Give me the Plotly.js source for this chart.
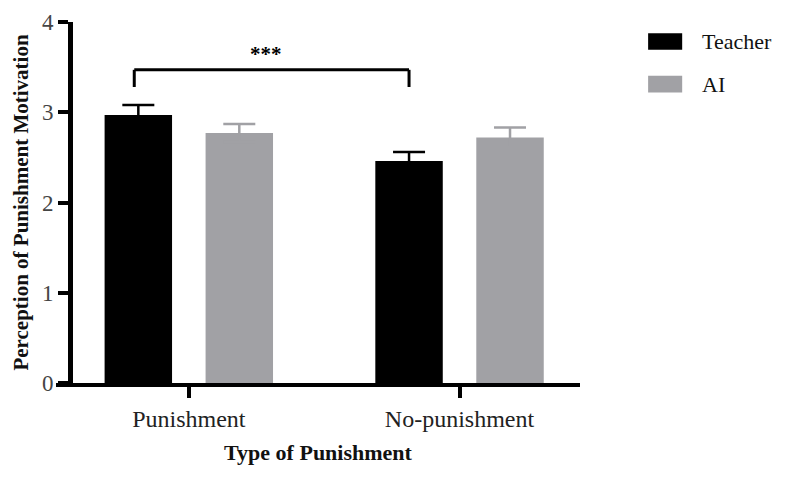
<!DOCTYPE html>
<html>
<head>
<meta charset="utf-8">
<script src="https://cdn.plot.ly/plotly-3.0.1.min.js"></script>
<style>
  body { margin: 0; background: #fff; }
  #plot { width: 785px; height: 479px; }
</style>
</head>
<body>
<div id="plot"></div>
<script>
// data
var categories = ['Punishment', 'No-punishment'];
var teacherMeans = [2.97, 2.46];
var teacherSE = [0.11, 0.10];
var aiMeans = [2.77, 2.72];
var aiSE = [0.10, 0.11];
var seriesNames = ['Teacher', 'AI'];
var seriesColors = ['#000000', '#a1a1a5'];
var yTicks = [0, 1, 2, 3, 4];
var sigLabel = '***';
var sigBracket = [3.28, 3.47]; // bottom / top of the bracket

var serif = 'Liberation Serif, DejaVu Serif, serif';

// bar layout: half slot offset of each bar inside its group
var barGap = 0.254;
var groupGap = 0.332;
var slot = (1 - barGap) / 2;
var teacherOffset = -slot / 2;

function makeTrace(name, means, se, color) {
  // symmetric bars: the lower half is hidden inside the bar of the same colour
  return {
    type: 'bar',
    name: name,
    x: categories,
    y: means,
    marker: { color: color, line: { width: 0 } },
    error_y: {
      type: 'data',
      array: se,
      color: color,
      thickness: 2.5,
      width: 16
    },
    hoverinfo: 'x+y'
  };
}

var trace1 = makeTrace(seriesNames[0], teacherMeans, teacherSE, seriesColors[0]);
var trace2 = makeTrace(seriesNames[1], aiMeans, aiSE, seriesColors[1]);
var data = [trace1, trace2];

// significance bracket between the two Teacher bars
var bx0 = 0 + teacherOffset - 0.015;
var bx1 = 1 + teacherOffset;
var bracketLine = { color: '#000', width: 3 };
var shapes = [
  { type: 'line', xref: 'x', yref: 'y', x0: bx0, x1: bx1, y0: sigBracket[1], y1: sigBracket[1], line: bracketLine },
  { type: 'line', xref: 'x', yref: 'y', x0: bx0, x1: bx0, y0: sigBracket[0], y1: sigBracket[1], line: bracketLine },
  { type: 'line', xref: 'x', yref: 'y', x0: bx1, x1: bx1, y0: sigBracket[0], y1: sigBracket[1], line: bracketLine }
];

var annotations = [
  {
    xref: 'x', yref: 'y',
    x: (bx0 + bx1) / 2 - 0.02, y: sigBracket[1] + 0.17,
    text: sigLabel, showarrow: false,
    xanchor: 'center', yanchor: 'middle',
    font: { family: serif, size: 21, color: '#000', weight: 'bold' }
  }
];

// hand-made legend with wide swatches
var legX = 1.13, legW = 0.065, legTextX = 1.229;
var legY = [0.946, 0.828];
var legH = 0.046;
for (var i = 0; i < seriesNames.length; i++) {
  shapes.push({
    type: 'rect', xref: 'paper', yref: 'paper',
    x0: legX, x1: legX + legW, y0: legY[i] - legH / 2, y1: legY[i] + legH / 2,
    fillcolor: seriesColors[i], line: { width: 0 }
  });
  annotations.push({
    xref: 'paper', yref: 'paper', x: legTextX, y: legY[i],
    text: seriesNames[i], showarrow: false,
    xanchor: 'left', yanchor: 'middle',
    font: { family: serif, size: 22, color: '#111' }
  });
}

var layout = {
  width: 785,
  height: 479,
  margin: { l: 56, r: 205, t: 22, b: 96 },
  paper_bgcolor: '#fff',
  plot_bgcolor: '#fff',
  showlegend: false,
  barmode: 'group',
  bargap: barGap,
  bargroupgap: groupGap,
  xaxis: {
    type: 'category',
    range: [-0.4906, 1.445],
    showline: true, linewidth: 4, linecolor: '#000',
    ticks: 'outside', ticklen: 11, tickwidth: 4, tickcolor: '#000',
    tickfont: { family: serif, size: 24, color: '#222' },
    showgrid: false, zeroline: false,
    automargin: false,
    title: {
      text: 'Type of Punishment',
      font: { family: serif, size: 22, color: '#111', weight: 'bold' },
      standoff: 15
    }
  },
  yaxis: {
    range: [0, 4],
    anchor: 'free',
    position: 0.0267,
    showline: true, linewidth: 5, linecolor: '#000',
    ticks: 'outside', ticklen: 10, tickwidth: 4, tickcolor: '#000',
    tickvals: yTicks,
    tickfont: { family: serif, size: 23, color: '#444' },
    showgrid: false, zeroline: false,
    automargin: false,
    title: {
      text: 'Perception of Punishment Motivation',
      font: { family: serif, size: 21, color: '#111', weight: 'bold' },
      standoff: 6
    }
  },
  shapes: shapes,
  annotations: annotations
};

Plotly.newPlot('plot', data, layout, { displayModeBar: false, staticPlot: true });
</script>
</body>
</html>
